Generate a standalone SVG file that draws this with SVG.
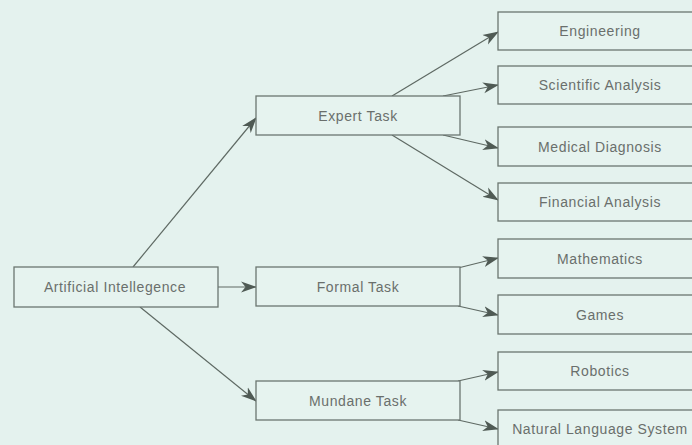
<svg xmlns="http://www.w3.org/2000/svg" width="692" height="445" viewBox="0 0 692 445">
<style>
.bg{fill:#e4f2ee}
.box{fill:#e6f3ef;stroke:#6b7670;stroke-width:1.3}
.lbl{font-family:"Liberation Sans",Arial,sans-serif;font-size:14px;letter-spacing:0.6px;fill:#6a6f6c;text-anchor:middle}
.edge{fill:none;stroke:#5e6963;stroke-width:1.2;marker-end:url(#ah)}
</style>
<defs>
<marker id="ah" viewBox="0 0 16 12" refX="15" refY="6" markerWidth="16" markerHeight="12" markerUnits="userSpaceOnUse" orient="auto">
<path d="M0,0.5 L16,6 L0,11.5 L4.5,6 Z" fill="#4f5a54"/>
</marker>
</defs>
<rect class="bg" x="0" y="0" width="692" height="445"/>
<g id="connectors">
<line class="edge" x1="133" y1="267" x2="256" y2="118"/>
<line class="edge" x1="218" y1="287" x2="256" y2="287"/>
<line class="edge" x1="140" y1="307" x2="256" y2="401"/>
<line class="edge" x1="392" y1="96" x2="498" y2="32"/>
<line class="edge" x1="443" y1="96" x2="498" y2="85"/>
<line class="edge" x1="443" y1="135" x2="498" y2="148"/>
<line class="edge" x1="392" y1="135" x2="498" y2="200"/>
<line class="edge" x1="458" y1="268" x2="498" y2="258"/>
<line class="edge" x1="458" y1="306" x2="498" y2="315"/>
<line class="edge" x1="458" y1="381" x2="498" y2="372"/>
<line class="edge" x1="458" y1="420" x2="498" y2="429"/>
</g>
<g id="ai"><rect class="box" x="14" y="267" width="204" height="40"/><text class="lbl" x="115" y="292">Artificial Intellegence</text></g>
<g id="expert"><rect class="box" x="256" y="96" width="204" height="39"/><text class="lbl" x="358" y="121">Expert Task</text></g>
<g id="formal"><rect class="box" x="256" y="267" width="204" height="39"/><text class="lbl" x="358" y="292">Formal Task</text></g>
<g id="mundane"><rect class="box" x="256" y="381" width="204" height="39"/><text class="lbl" x="358" y="406">Mundane Task</text></g>
<g id="engineering"><rect class="box" x="498" y="12" width="206" height="38"/><text class="lbl" x="600" y="36">Engineering</text></g>
<g id="scientific"><rect class="box" x="498" y="66" width="206" height="38"/><text class="lbl" x="600" y="90">Scientific Analysis</text></g>
<g id="medical"><rect class="box" x="498" y="127" width="206" height="39"/><text class="lbl" x="600" y="152">Medical Diagnosis</text></g>
<g id="financial"><rect class="box" x="498" y="183" width="206" height="38"/><text class="lbl" x="600" y="207">Financial Analysis</text></g>
<g id="mathematics"><rect class="box" x="498" y="239" width="206" height="39"/><text class="lbl" x="600" y="264">Mathematics</text></g>
<g id="games"><rect class="box" x="498" y="295" width="206" height="39"/><text class="lbl" x="600" y="320">Games</text></g>
<g id="robotics"><rect class="box" x="498" y="352" width="206" height="38"/><text class="lbl" x="600" y="376">Robotics</text></g>
<g id="nls"><rect class="box" x="498" y="410" width="206" height="40"/><text class="lbl" x="600" y="434">Natural Language System</text></g>
</svg>
